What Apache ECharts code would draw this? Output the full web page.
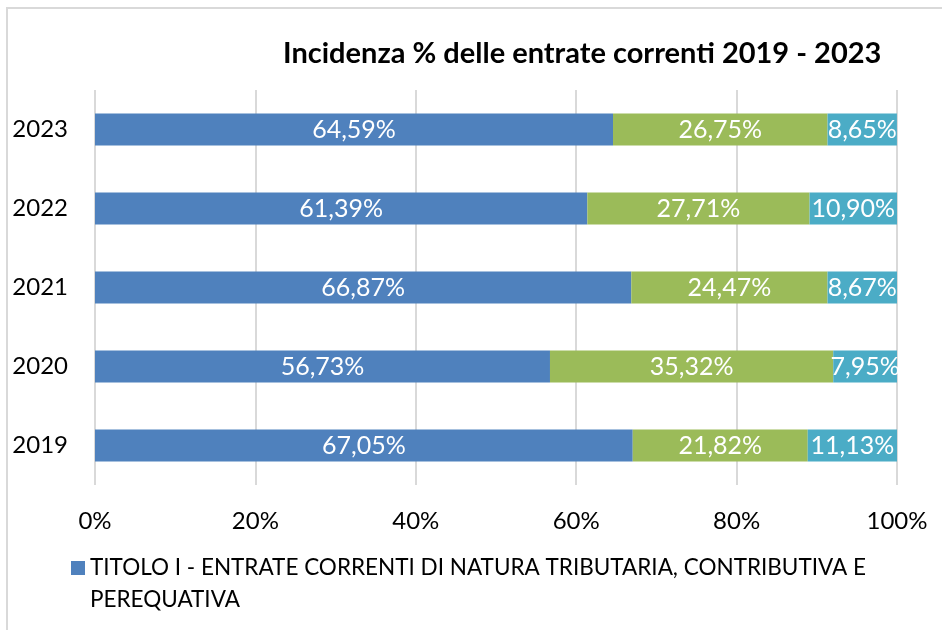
<!DOCTYPE html>
<html>
<head>
<meta charset="utf-8">
<script src="https://cdn.jsdelivr.net/npm/echarts@6/dist/echarts.min.js"></script>
<style>
  html, body { margin: 0; padding: 0; background: #fff; }
  #chart { width: 942px; height: 630px; }
</style>
</head>
<body>
<div id="chart"></div>
<script>
// anni, dal basso verso l'alto
const years = ['2019', '2020', '2021', '2022', '2023']
const titolo1 = [67.05, 56.73, 66.87, 61.39, 64.59]
const titolo2 = [21.82, 35.32, 24.47, 27.71, 26.75]
const titolo3 = [11.13, 7.95, 8.67, 10.90, 8.65]

const FONT = 'Lato, "Open Sans", sans-serif'

const fmt = (p) => p.value.toFixed(2).replace('.', ',') + '%'

const barLabel = {
  show: true,
  position: 'inside',
  color: '#fff',
  fontSize: 25,
  fontFamily: FONT,
  formatter: fmt
}

const chart = echarts.init(document.getElementById('chart'))
chart.setOption({
  animation: false,
  graphic: [
    {
      type: 'rect',
      shape: { x: 7, y: 8, width: 1000, height: 700 },
      style: { fill: 'none', stroke: '#d9d9d9', lineWidth: 2 },
      silent: true
    }
  ],
  title: {
    text: 'Incidenza % delle entrate correnti 2019 - 2023',
    left: 278,
    top: 34,
    textStyle: { fontFamily: FONT, fontWeight: 'bold', fontSize: 29, color: '#000' }
  },
  legend: {
    data: ['TITOLO I - ENTRATE CORRENTI DI NATURA TRIBUTARIA, CONTRIBUTIVA E PEREQUATIVA'],
    left: 66,
    top: 515,
    itemWidth: 14,
    itemHeight: 14,
    icon: 'rect',
    // riga vuota in testa: il quadratino resta all'altezza della prima riga
    formatter: () => '\nTITOLO I - ENTRATE CORRENTI DI NATURA TRIBUTARIA, CONTRIBUTIVA E\nPEREQUATIVA',
    textStyle: {
      fontFamily: FONT,
      fontSize: 22.5,
      color: '#000',
      lineHeight: 32
    }
  },
  grid: {
    left: 95,
    right: 45,
    top: 90,
    bottom: 145,
    containLabel: false
  },
  xAxis: {
    type: 'value',
    min: 0,
    max: 100,
    interval: 20,
    axisLine: { show: false },
    axisTick: { show: false },
    axisLabel: {
      formatter: '{value}%',
      fontFamily: FONT,
      fontSize: 24,
      color: '#000',
      margin: 24
    },
    splitLine: { lineStyle: { color: '#d9d9d9', width: 2 } }
  },
  yAxis: {
    type: 'category',
    data: years,
    axisLine: { show: false },
    axisTick: { show: false },
    axisLabel: {
      fontFamily: FONT,
      fontSize: 24,
      color: '#000',
      margin: 27
    }
  },
  series: [
    {
      name: 'TITOLO I - ENTRATE CORRENTI DI NATURA TRIBUTARIA, CONTRIBUTIVA E PEREQUATIVA',
      type: 'bar',
      stack: 'tot',
      barWidth: 32,
      data: titolo1,
      itemStyle: { color: '#4f81bd' },
      label: barLabel
    },
    {
      name: 'TITOLO II - TRASFERIMENTI CORRENTI',
      type: 'bar',
      stack: 'tot',
      barWidth: 32,
      data: titolo2,
      itemStyle: { color: '#9bbb59' },
      label: barLabel
    },
    {
      name: 'TITOLO III - ENTRATE EXTRATRIBUTARIE',
      type: 'bar',
      stack: 'tot',
      barWidth: 32,
      data: titolo3,
      itemStyle: { color: '#4bacc6' },
      label: barLabel
    }
  ]
})
</script>
</body>
</html>
